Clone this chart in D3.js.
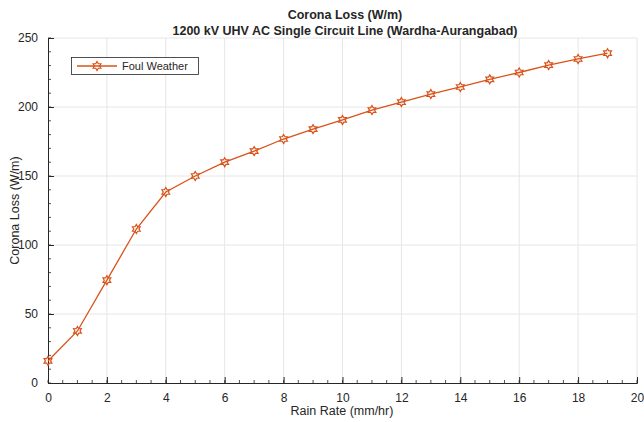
<!DOCTYPE html>
<html>
<head>
<meta charset="utf-8">
<script src="https://cdn.jsdelivr.net/npm/d3@7"></script>
<style>
  body { margin: 0; background: #fff; }
  text { font-family: "Liberation Sans", Arial, sans-serif; fill: #262626; }
</style>
</head>
<body>
<div id="chart"></div>
<script>
var rainRate = [0, 1, 2, 3, 4, 5, 6, 7, 8, 9, 10, 11, 12, 13, 14, 15, 16, 17, 18, 19]
var coronaLoss = [16, 37.7, 74.5, 111.6, 138.4, 150, 160, 168, 176.8, 184, 190.6, 197.8, 203.6, 209.4, 214.5, 220, 225, 230.4, 234.8, 239]
var xTicks = [0, 2, 4, 6, 8, 10, 12, 14, 16, 18, 20]
var yTicks = [0, 50, 100, 150, 200, 250]
var seriesName = "Foul Weather"

var margin = { top: 38, right: 7, bottom: 39, left: 48 },
    width = 644 - margin.left - margin.right,
    height = 422 - margin.top - margin.bottom;
var color = "#D95319"

var svg = d3.select("#chart").append("svg")
    .attr("width", 644)
    .attr("height", 422)
var g = svg.append("g")
    .attr("transform", "translate(" + margin.left + "," + margin.top + ")")

var x = d3.scaleLinear().domain([0, 20]).range([0, width])
var y = d3.scaleLinear().domain([0, 250]).range([height, 0])

// grid
g.selectAll(".xg").data(xTicks.slice(1)).enter().append("line")
    .attr("x1", d => x(d)).attr("x2", d => x(d))
    .attr("y1", 0).attr("y2", height)
    .attr("stroke", "#e6e6e6").attr("stroke-width", 1)
g.selectAll(".yg").data(yTicks.slice(1)).enter().append("line")
    .attr("x1", 0).attr("x2", width)
    .attr("y1", d => y(d)).attr("y2", d => y(d))
    .attr("stroke", "#e6e6e6").attr("stroke-width", 1)

// minor ticks
var xMinor = d3.range(0, 20.01, 0.5)
var yMinor = d3.range(0, 250.01, 10)
g.selectAll(".xm").data(xMinor).enter().append("line")
    .attr("x1", d => x(d)).attr("x2", d => x(d))
    .attr("y1", height).attr("y2", height - 3)
    .attr("stroke", "#262626").attr("stroke-width", 0.8)
g.selectAll(".ym").data(yMinor).enter().append("line")
    .attr("x1", 0).attr("x2", 3)
    .attr("y1", d => y(d)).attr("y2", d => y(d))
    .attr("stroke", "#262626").attr("stroke-width", 0.8)

// axes
var xAxis = g.append("g")
    .attr("transform", "translate(0," + height + ")")
    .call(d3.axisBottom(x).tickValues(xTicks).tickSize(-6).tickPadding(10))
var yAxis = g.append("g")
    .call(d3.axisLeft(y).tickValues(yTicks).tickSize(-6).tickPadding(10))
;[xAxis, yAxis].forEach(a => {
    a.select(".domain").attr("stroke", "#262626")
    a.selectAll(".tick line").attr("stroke", "#262626")
    a.selectAll("text").style("font-size", "12px").style("font-family", "Liberation Sans, Arial, sans-serif").attr("fill", "#262626")
})

// line
var line = d3.line().x((d, i) => x(rainRate[i])).y(d => y(d))
g.append("path").datum(coronaLoss)
    .attr("d", line)
    .attr("fill", "none")
    .attr("stroke", color)
    .attr("stroke-width", 1.3)

function hexagram(cx, cy, r) {
    var pts = []
    for (var k = 0; k < 12; k++) {
        var a = -Math.PI / 2 + k * Math.PI / 6
        var rr = k % 2 == 0 ? r : r * 0.577
        pts.push([cx + rr * Math.cos(a), cy + rr * Math.sin(a)])
    }
    return "M" + pts.map(p => p.join(",")).join("L") + "Z"
}

g.selectAll(".mk").data(coronaLoss).enter().append("path")
    .attr("d", (d, i) => hexagram(x(rainRate[i]), y(d), 4.5))
    .attr("fill", "none")
    .attr("stroke", color)
    .attr("stroke-width", 1.2)

// legend
var lg = svg.append("g")
lg.append("rect").attr("x", 71.5).attr("y", 57.5).attr("width", 127).attr("height", 17)
    .attr("fill", "#fff").attr("stroke", "#262626").attr("stroke-width", 0.8)
lg.append("line").attr("x1", 77).attr("x2", 117).attr("y1", 66).attr("y2", 66)
    .attr("stroke", color).attr("stroke-width", 1.3)
lg.append("path").attr("d", hexagram(97, 66, 4.5))
    .attr("fill", "none").attr("stroke", color).attr("stroke-width", 1.2)
lg.append("text").attr("x", 122).attr("y", 70).style("font-size", "11px").text(seriesName)

// titles
svg.append("text").attr("x", 345).attr("y", 19).attr("text-anchor", "middle")
    .style("font-size", "12.5px").style("font-weight", "bold").text("Corona Loss (W/m)")
svg.append("text").attr("x", 345).attr("y", 35).attr("text-anchor", "middle")
    .style("font-size", "12.5px").style("font-weight", "bold").text("1200 kV UHV AC Single Circuit Line (Wardha-Aurangabad)")
svg.append("text").attr("x", 342).attr("y", 415).attr("text-anchor", "middle")
    .style("font-size", "12.5px").text("Rain Rate (mm/hr)")
svg.append("text").attr("transform", "translate(19," + (margin.top + height / 2) + ") rotate(-90)")
    .attr("text-anchor", "middle").style("font-size", "12.5px").text("Corona Loss (W/m)")
</script>
</body>
</html>
